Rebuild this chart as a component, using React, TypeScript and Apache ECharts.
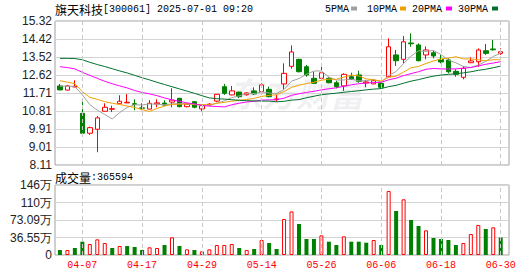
import React, { useEffect, useRef } from 'react';
import * as echarts from 'echarts';

const dates = [
  '04-01', '04-02', '04-03', '04-07', '04-08', '04-09', '04-10', '04-11', '04-14', '04-15',
  '04-16', '04-17', '04-18', '04-21', '04-22', '04-23', '04-24', '04-25', '04-28', '04-29',
  '04-30', '05-06', '05-07', '05-08', '05-09', '05-12', '05-13', '05-14', '05-15', '05-16',
  '05-19', '05-20', '05-21', '05-22', '05-23', '05-26', '05-27', '05-28', '05-29', '05-30',
  '06-03', '06-04', '06-05', '06-06', '06-09', '06-10', '06-11', '06-12', '06-13', '06-16',
  '06-17', '06-18', '06-19', '06-20', '06-23', '06-24', '06-25', '06-26', '06-27', '06-30',
];
const opens = [
  12.07, 11.86, 12.02, 10.70, 9.70, 9.90, 10.80, 10.90, 11.18, 11.22,
  11.18, 10.97, 10.91, 11.17, 11.21, 11.26, 11.45, 11.03, 11.28, 10.92,
  11.12, 11.31, 12.03, 11.62, 11.76, 11.63, 11.82, 11.78, 11.90, 11.38,
  12.17, 13.05, 13.40, 13.03, 12.45, 12.45, 12.45, 12.23, 12.07, 12.53,
  12.62, 12.22, 12.17, 12.20, 12.53, 13.62, 13.40, 14.22, 14.12, 13.62,
  13.73, 13.40, 13.37, 12.80, 12.50, 13.23, 13.28, 13.83, 13.92, 13.70,
];
const closes = [
  11.87, 12.07, 12.05, 9.70, 9.98, 10.47, 11.00, 10.93, 11.30, 11.25,
  11.15, 10.95, 11.20, 11.22, 11.11, 11.36, 11.03, 11.16, 11.00, 11.08,
  11.16, 11.65, 11.70, 11.82, 11.53, 11.72, 11.67, 12.12, 11.53, 11.42,
  12.70, 13.77, 12.78, 12.62, 12.20, 12.73, 12.23, 12.03, 12.65, 12.40,
  12.30, 12.27, 12.33, 12.00, 14.03, 13.33, 14.28, 14.18, 13.33, 13.87,
  13.57, 13.27, 12.78, 12.65, 12.95, 13.32, 13.87, 13.70, 13.88, 13.78,
];
const lows = [
  11.85, 11.84, 12.00, 9.70, 9.62, 8.75, 10.80, 10.76, 11.17, 11.21,
  10.85, 10.85, 10.90, 11.00, 11.08, 11.00, 11.00, 11.00, 10.95, 10.80,
  11.08, 11.26, 11.62, 11.60, 11.46, 11.58, 11.62, 11.75, 11.50, 11.28,
  11.90, 12.93, 12.75, 12.53, 12.17, 12.37, 12.20, 11.95, 11.82, 12.37,
  12.23, 12.00, 12.15, 11.95, 12.50, 13.07, 13.20, 14.03, 13.30, 13.40,
  13.45, 13.20, 12.70, 12.53, 12.40, 13.22, 13.03, 13.62, 13.83, 13.62,
];
const highs = [
  12.17, 12.12, 12.35, 11.33, 10.03, 10.56, 11.20, 11.08, 11.60, 11.66,
  11.40, 11.20, 11.36, 11.40, 11.35, 11.95, 11.47, 11.18, 11.30, 11.10,
  11.20, 11.66, 12.17, 12.07, 11.78, 11.75, 12.00, 12.20, 12.03, 11.62,
  13.20, 14.10, 13.43, 13.12, 12.78, 13.15, 12.50, 12.33, 12.70, 12.73,
  12.83, 12.37, 12.40, 12.25, 14.45, 13.87, 14.57, 14.70, 14.20, 14.05,
  13.83, 13.62, 13.45, 12.90, 13.07, 13.50, 13.95, 14.17, 14.37, 13.95,
];
const volumes = [
  104000, 104000, 146000, 278000, 230000, 327000, 250000, 146000, 188000, 188000,
  167000, 104000, 160000, 146000, 209000, 369000, 188000, 118000, 104000, 77000,
  118000, 209000, 209000, 230000, 146000, 104000, 125000, 313000, 250000, 125000,
  752000, 910000, 647000, 334000, 334000, 411000, 278000, 209000, 390000, 278000,
  278000, 257000, 313000, 209000, 1337000, 919000, 1163000, 731000, 606000, 515000,
  355000, 334000, 313000, 209000, 250000, 438000, 626000, 543000, 578000, 365594,
];
// moving-average values before enough closes are on the chart
const ma5Head = [12.05, 12.06, 12.04, 11.62];
const ma10Head = [12.33, 12.26, 12.18, 11.78, 11.5, 11.4, 11.28, 11.2, 11.14];
const ma20Head = [
  13.03, 12.99, 12.92, 12.75, 12.6, 12.45, 12.3, 12.18, 12.07, 11.97,
  11.84, 11.74, 11.67, 11.58, 11.47, 11.37, 11.3, 11.22, 11.17,
];
const ma30Head = [
  13.45, 13.45, 13.44, 13.38, 13.25, 13.14, 13.04, 12.93, 12.82, 12.72,
  12.6, 12.48, 12.37, 12.25, 12.14, 12.03, 11.92, 11.81, 11.7, 11.58,
  11.47, 11.43, 11.41, 11.38, 11.35, 11.33, 11.32, 11.31, 11.31,
];
const priceTicks = ['8.11', '9.01', '9.91', '10.81', '11.71', '12.62', '13.52', '14.42', '15.32'];
const volumeTicks = ['0', '36.55万', '73.09万', '110万', '146万'];
const dateLabelIdx = [3, 11, 19, 27, 35, 43, 51, 59];
const maNames = ['5PMA', '10PMA', '20PMA', '30PMA'];
const maPeriods = [5, 10, 20, 30];
const maHeads = [ma5Head, ma10Head, ma20Head, ma30Head];
const maColors = ['#a0a0a0', '#f0a000', '#ff00ff', '#00722e'];
const titleName = '旗天科技';
const titleRest = '[300061] 2025-07-01 09:20';
const volumeLabel = '成交量';
const lastVolume = '365594';

const PRICE_MIN = 8.11;
const PRICE_MAX = 15.32;
const VOL_MAX = 1461800;

function movingAverage(n: number, head: number[]) {
  return closes.map((_, i) => {
    if (i < n - 1) return [i, head[i]];
    let s = 0;
    for (let k = i - n + 1; k <= i; k++) s += closes[k];
    return [i, +(s / n).toFixed(3)];
  });
}

const MONO = '"Liberation Mono", "DejaVu Sans Mono", monospace';
const CJK = '"Noto Sans CJK SC", sans-serif';
const SANS = '"Liberation Sans", Arial, sans-serif';

export default function App() {
  const ref = useRef<HTMLDivElement>(null);
  useEffect(() => {
    const chart = echarts.init(ref.current!, null, { renderer: 'svg' });
    const X_MIN = -0.66;
    const X_MAX = X_MIN + 454 / 7.471;
    const priceStep = (PRICE_MAX - PRICE_MIN) / 8;
    const volStep = VOL_MAX / 4;
    const markLine = {
      silent: true,
      symbol: ['none', 'none'],
      label: { show: false },
      lineStyle: { color: '#c8c8c8', type: [4, 3], width: 1 },
      data: dateLabelIdx.map((i) => ({ xAxis: i })),
    };
    const legendX = [325, 367, 412, 458];
    const legendRectX = [351, 400, 446, 492];
    const graphic: any[] = [
      {
        type: 'text',
        x: 228,
        y: 92,
        z: 0,
        silent: true,
        style: {
          text: '东方财富',
          fontFamily: CJK,
          fontSize: 34,
          fontWeight: 'bold',
          fontStyle: 'italic',
          fill: 'rgba(140,140,160,0.13)',
          verticalAlign: 'middle',
        },
      },
      {
        type: 'text',
        x: 55,
        y: 9,
        style: {
          text: `{a|${titleName}}{b|${titleRest}}`,
          verticalAlign: 'middle',
          rich: {
            a: { fontFamily: CJK, fontSize: 12, fill: '#000' },
            b: { fontFamily: MONO, fontSize: 10, fill: '#000' },
          },
        },
      },
      {
        type: 'text',
        x: 55,
        y: 177.5,
        style: {
          text: `{a|${volumeLabel}}{b|:${lastVolume}}`,
          verticalAlign: 'middle',
          rich: {
            a: { fontFamily: CJK, fontSize: 12, fill: '#000' },
            b: { fontFamily: MONO, fontSize: 10, fill: '#000' },
          },
        },
      },
    ];
    maNames.forEach((name, k) => {
      graphic.push({
        type: 'text',
        x: legendX[k],
        y: 9,
        style: { text: name, fontFamily: MONO, fontSize: 10, fill: '#000', verticalAlign: 'middle' },
      });
      graphic.push({
        type: 'rect',
        shape: { x: legendRectX[k], y: 6.5, width: 6, height: 4 },
        style: { fill: maColors[k] },
      });
    });

    const volData = volumes.map((v, i) => {
      const up = i === 0 ? closes[0] >= opens[0] : closes[i] > closes[i - 1];
      return {
        value: [i, v],
        itemStyle: up
          ? { color: '#ffffff', borderColor: '#ff0000', borderWidth: 1 }
          : { color: '#008000', borderColor: '#008000', borderWidth: 0 },
      };
    });

    const option: any = {
      animation: false,
      backgroundColor: '#ffffff',
      graphic,
      grid: [
        { left: 55, top: 21, width: 454, height: 144, show: true, borderColor: '#a0a0a0', borderWidth: 1 },
        { left: 55, top: 185, width: 454, height: 70, show: true, borderColor: '#a0a0a0', borderWidth: 1 },
      ],
      xAxis: [
        {
          type: 'value',
          gridIndex: 0,
          min: X_MIN,
          max: X_MAX,
          axisLabel: { show: false },
          axisTick: { show: false },
          axisLine: { show: false },
          splitLine: { show: false },
        },
        {
          type: 'value',
          gridIndex: 1,
          min: X_MIN,
          max: X_MAX,
          axisLabel: {
            show: true,
            customValues: dateLabelIdx,
            formatter: (v: number) => dates[Math.round(v)] ?? '',
            color: '#ff0000',
            fontFamily: MONO,
            fontSize: 10,
            margin: 5,
          },
          axisTick: { show: false },
          axisLine: { show: false },
          splitLine: { show: false },
        },
      ],
      yAxis: [
        {
          type: 'value',
          gridIndex: 0,
          min: PRICE_MIN,
          max: PRICE_MAX,
          interval: priceStep,
          axisLine: { show: false },
          axisTick: { show: false },
          splitLine: { show: true, lineStyle: { color: '#d4d4d4', width: 1 } },
          axisLabel: {
            margin: 3,
            fontFamily: SANS,
            fontSize: 12,
            color: '#222',
            showMinLabel: true,
            showMaxLabel: true,
            formatter: (v: number) => priceTicks[Math.round((v - PRICE_MIN) / priceStep)] ?? '',
          },
        },
        {
          type: 'value',
          gridIndex: 1,
          min: 0,
          max: VOL_MAX,
          interval: volStep,
          axisLine: { show: false },
          axisTick: { show: false },
          splitLine: { show: true, lineStyle: { color: '#d4d4d4', width: 1 } },
          axisLabel: {
            margin: 3,
            fontFamily: SANS,
            fontSize: 12,
            color: '#222',
            showMinLabel: true,
            showMaxLabel: true,
            formatter: (v: number) => volumeTicks[Math.round(v / volStep)] ?? '',
          },
        },
      ],
      series: [
        {
          type: 'candlestick',
          xAxisIndex: 0,
          yAxisIndex: 0,
          barWidth: 5,
          encode: { x: 0, y: [1, 2, 3, 4] },
          data: dates.map((_, i) => [i, opens[i], closes[i], lows[i], highs[i]]),
          itemStyle: {
            color: '#ffffff',
            color0: '#008000',
            borderColor: '#ff0000',
            borderColor0: '#008000',
            borderWidth: 1,
          },
          markLine,
          z: 3,
        },
        ...maNames.map((name, k) => ({
          type: 'line',
          name,
          xAxisIndex: 0,
          yAxisIndex: 0,
          data: movingAverage(maPeriods[k], maHeads[k]),
          showSymbol: false,
          symbol: 'none',
          lineStyle: { color: maColors[k], width: 1 },
          itemStyle: { color: maColors[k] },
          z: 4,
        })),
        {
          type: 'bar',
          xAxisIndex: 1,
          yAxisIndex: 1,
          barWidth: 4,
          data: volData,
          markLine,
        },
      ],
    };
    chart.setOption(option);
    return () => chart.dispose();
  }, []);
  return <div ref={ref} style={{ position: 'fixed', left: 0, top: 0, width: 530, height: 276 }} />;
}
